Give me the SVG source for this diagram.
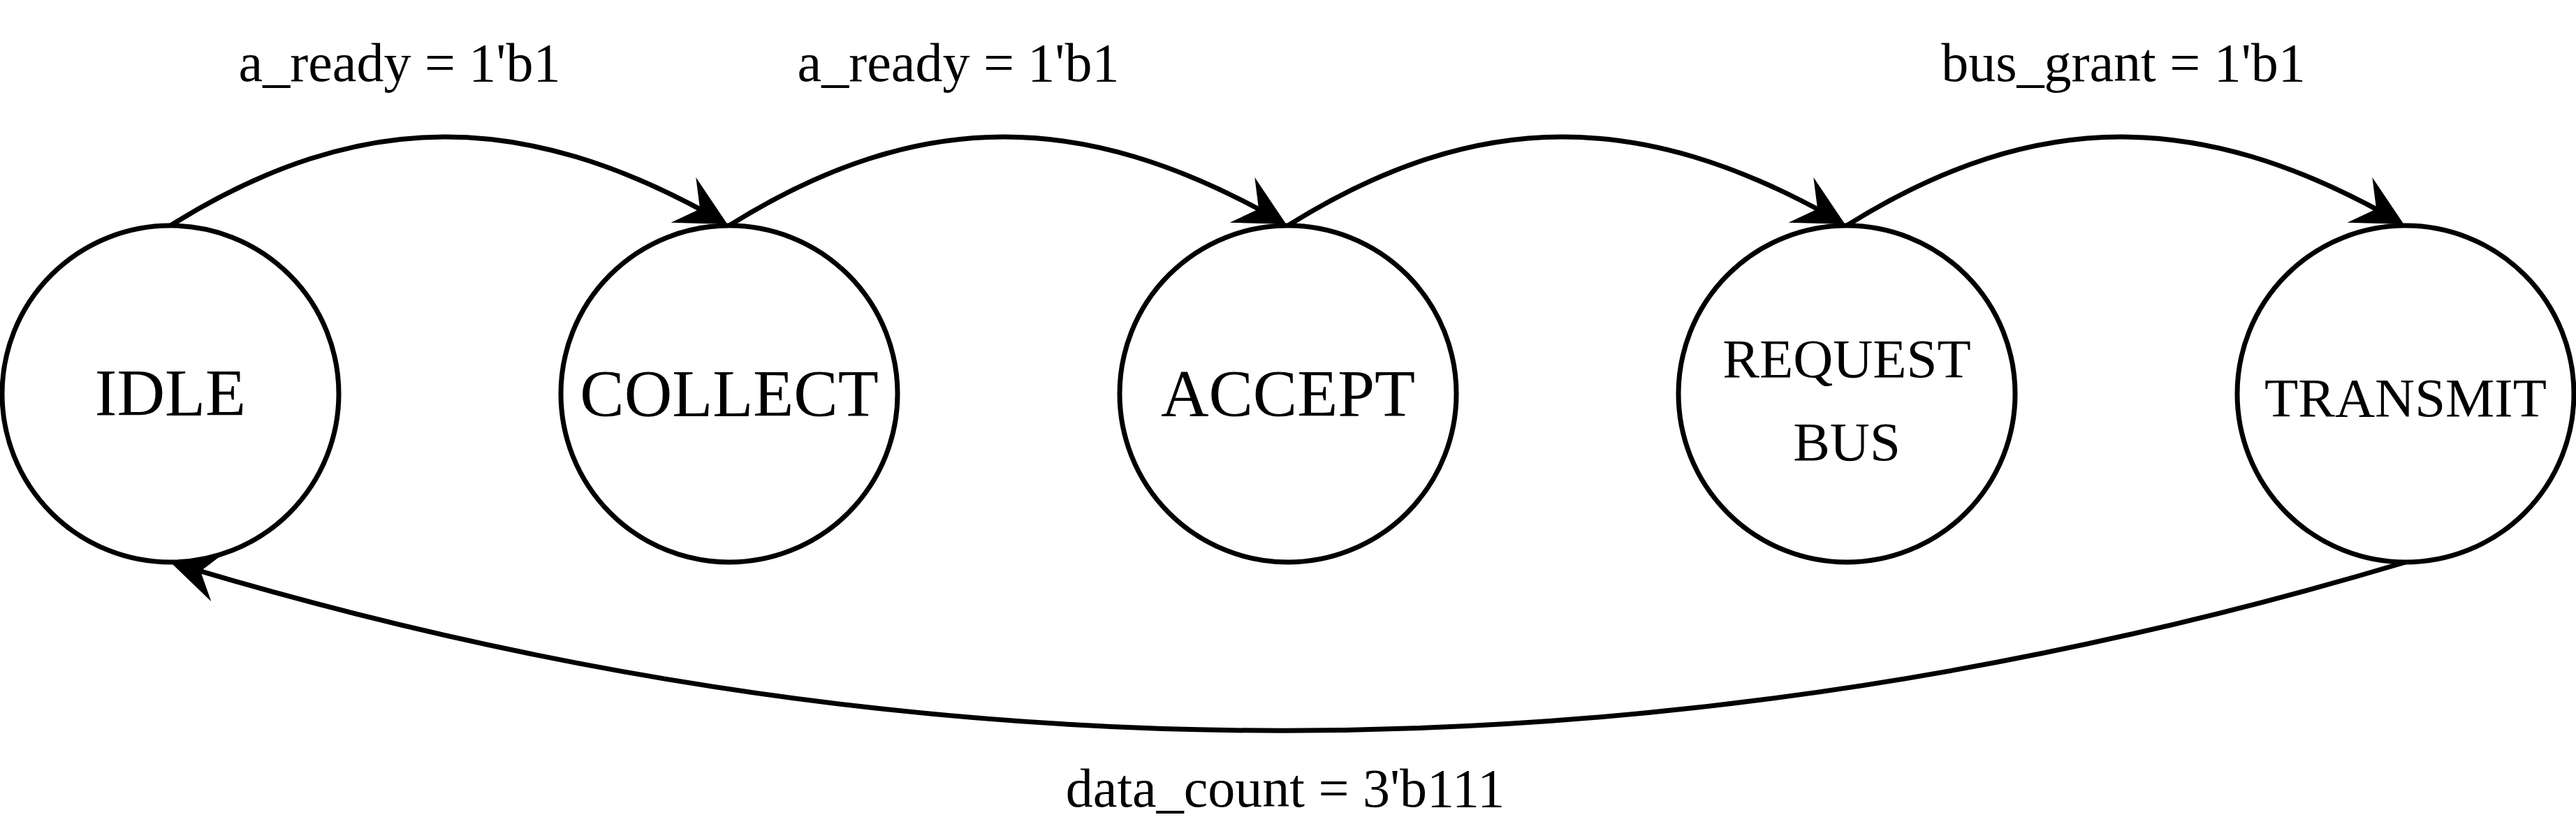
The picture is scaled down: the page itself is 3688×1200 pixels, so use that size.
<svg xmlns="http://www.w3.org/2000/svg" width="3688" height="1200" viewBox="0 0 3688 1200">
<style>
  .state { fill: #ffffff; stroke: #000000; stroke-width: 7; }
  .name { font-family: "Liberation Serif", "Times New Roman", serif; font-size: 95px; fill: #000; text-anchor: middle; }
  .name.small { font-size: 79px; }
  .edge { fill: none; stroke: #000000; stroke-width: 7; marker-end: url(#arrow); }
  .lbl { font-family: "Liberation Serif", "Times New Roman", serif; font-size: 78px; fill: #000; text-anchor: middle; }
</style>
<defs>
  <marker id="arrow" markerUnits="userSpaceOnUse" orient="auto" refX="0" refY="0" markerWidth="120" markerHeight="120" overflow="visible">
    <path d="M30,0 L-42,-37 L-15,0 L-42,37 Z" fill="#000"/>
  </marker>
</defs>
<rect width="3688" height="1200" fill="#ffffff"/>
<g id="connectors">
  <path class="edge" d="M244,323 C520,150 755,163 1015.2,306.6"/>
  <path class="edge" d="M1044,323 C1320,150 1555,163 1815.2,306.6"/>
  <path class="edge" d="M1844,323 C2120,150 2355,163 2615.2,306.6"/>
  <path class="edge" d="M2644,323 C2920,150 3155,163 3415.2,306.6"/>
  <path class="edge" d="M3444,805 Q1844,1283 272.7,813.7"/>
  <text class="lbl" x="572" y="116">a_ready = 1'b1</text>
  <text class="lbl" x="1372" y="116">a_ready = 1'b1</text>
  <text class="lbl" x="3040" y="116">bus_grant = 1'b1</text>
  <text class="lbl" x="1840" y="1155">data_count = 3'b111</text>
</g>
<g id="idle">
  <circle class="state" cx="244" cy="564" r="241"/>
  <text class="name" x="244" y="595">IDLE</text>
</g>
<g id="collect">
  <circle class="state" cx="1044" cy="564" r="241"/>
  <text class="name" x="1044" y="596">COLLECT</text>
</g>
<g id="accept">
  <circle class="state" cx="1844" cy="564" r="241"/>
  <text class="name" x="1844" y="596">ACCEPT</text>
</g>
<g id="request_bus">
  <circle class="state" cx="2644" cy="564" r="241"/>
  <text class="name small" x="2644" y="540">REQUEST</text>
  <text class="name small" x="2644" y="659">BUS</text>
</g>
<g id="transmit">
  <circle class="state" cx="3444" cy="564" r="241"/>
  <text class="name small" x="3444" y="596">TRANSMIT</text>
</g>
</svg>
